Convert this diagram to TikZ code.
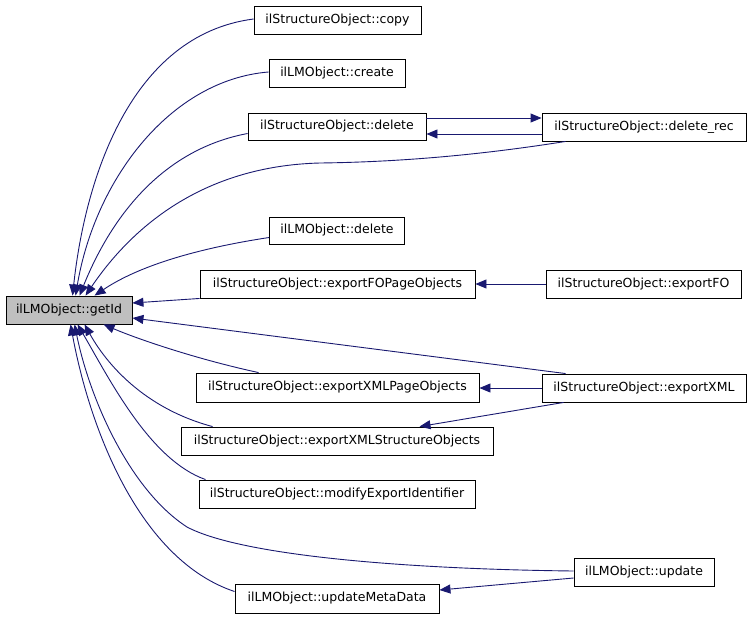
\documentclass[tikz,border=0pt]{standalone}
\usepackage{fontspec}
\setmainfont{DejaVu Sans}
\usetikzlibrary{arrows.meta}
\definecolor{edgec}{RGB}{25,25,112}
\definecolor{rootfill}{RGB}{191,191,191}
\tikzset{
  fn/.style={draw=black, line width=0.9pt, fill=white, inner sep=0pt, anchor=center,
    font=\fontsize{12.5}{14}\selectfont, text=black},
  edge/.style={draw=edgec, line width=0.9pt, -{Triangle[length=11pt,width=9pt]}},
}
\begin{document}
\begin{tikzpicture}[x=1pt,y=-1pt]
\useasboundingbox (0,0) rectangle (752,619);
\node[fn, fill=rootfill, minimum width=126pt, minimum height=28pt] (getId) at (69,310) {ilLMObject::getId};
\node[fn, minimum width=167pt, minimum height=28pt] (copy) at (337.5,20) {ilStructureObject::copy};
\node[fn, minimum width=136pt, minimum height=28pt] (create) at (337,73) {ilLMObject::create};
\node[fn, minimum width=178pt, minimum height=27pt] (sdelete) at (337,126.5) {ilStructureObject::delete};
\node[fn, minimum width=204pt, minimum height=28pt] (delrec) at (644,127) {ilStructureObject::delete\_rec};
\node[fn, minimum width=135pt, minimum height=27pt] (lmdelete) at (337,230.5) {ilLMObject::delete};
\node[fn, minimum width=275pt, minimum height=28pt] (fopage) at (337.5,284) {ilStructureObject::exportFOPageObjects};
\node[fn, minimum width=195pt, minimum height=28pt] (fo) at (643.5,284) {ilStructureObject::exportFO};
\node[fn, minimum width=283pt, minimum height=29pt] (xmlpage) at (337.5,387.5) {ilStructureObject::exportXMLPageObjects};
\node[fn, minimum width=204pt, minimum height=28pt] (xml) at (644,388) {ilStructureObject::exportXML};
\node[fn, minimum width=312pt, minimum height=28pt] (xmlstruct) at (337,441) {ilStructureObject::exportXMLStructureObjects};
\node[fn, minimum width=276pt, minimum height=28pt] (modify) at (337,494) {ilStructureObject::modifyExportIdentifier};
\node[fn, minimum width=140pt, minimum height=28pt] (update) at (644,572) {ilLMObject::update};
\node[fn, minimum width=204pt, minimum height=29pt] (meta) at (337,598.5) {ilLMObject::updateMetaData};

% edges into getId (top side)
\draw[edge] ([yshift=1pt]copy.west) .. controls (130,35) and (85,180) .. ([xshift=67pt]getId.north west);
\draw[edge] ([yshift=1pt]create.west) .. controls (170,80) and (95,180) .. ([xshift=70pt]getId.north west);
\draw[edge] ([yshift=-7pt]sdelete.west) .. controls (160,150) and (110,220) .. ([xshift=74pt]getId.north west);
\draw[edge] ([xshift=24pt]delrec.south west) .. controls (480,155) and (400,162) .. (320,163)
   .. controls (200,166) and (130,230) .. ([xshift=80pt]getId.north west);
\draw[edge] ([yshift=-7pt]lmdelete.west) .. controls (200,248) and (140,265) .. ([xshift=89pt]getId.north west);
\draw[edge] (fopage.south west) -- ([yshift=7pt]getId.east);
% edges into getId (bottom side / right)
\draw[edge] ([xshift=24pt]xml.north west) -- ([yshift=-8pt]getId.east);
\draw[edge] ([xshift=63pt]xmlpage.north west) .. controls (200,360) and (140,340) .. ([xshift=98pt]getId.south west);
\draw[edge] ([xshift=32pt]xmlstruct.north west) .. controls (150,410) and (110,370) .. ([xshift=79pt]getId.south west);
\draw[edge] ([xshift=7pt]modify.north west) .. controls (150,460) and (110,380) .. ([xshift=72pt]getId.south west);
\draw[edge] ([yshift=1pt]update.west) .. controls (400,569) and (240,555) .. (187,527)
   .. controls (130,490) and (90,400) .. ([xshift=69pt]getId.south west);
\draw[edge] ([yshift=7pt]meta.west) .. controls (140,560) and (90,430) .. ([xshift=65pt]getId.south west);

% right-side edges
\draw[edge] ([yshift=8.5pt]sdelete.east) -- ([yshift=9pt]delrec.west);
\draw[edge] ([yshift=-7pt]delrec.west) -- ([yshift=-7.5pt]sdelete.east);
\draw[edge] (fo.west) -- (fopage.east);
\draw[edge] (xml.west) -- ([yshift=-0.5pt]xmlpage.east);
\draw[edge] ([xshift=22pt]xml.south west) -- ([xshift=239pt]xmlstruct.north west);
\draw[edge] ([yshift=-6pt]update.west) -- ([yshift=8.5pt]meta.east);
\end{tikzpicture}
\end{document}
